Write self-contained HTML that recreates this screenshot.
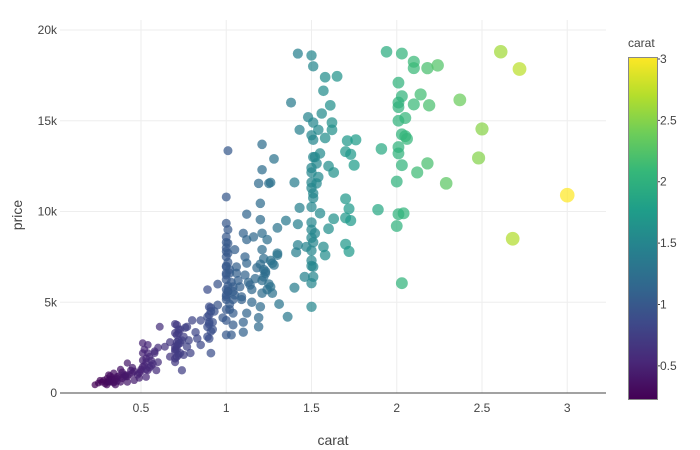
<!DOCTYPE html>
<html><head><meta charset="utf-8"><style>
body{margin:0;background:#fff;}
svg{display:block;font-family:"Liberation Sans",Arial,sans-serif;}
</style></head><body>
<svg id="chart" width="700" height="450"></svg>
<script>
const carats=[1.42,1.50,1.51,1.58,1.65,1.57,1.38,1.61,1.56,1.48,1.51,1.62,1.54,1.43,1.62,1.50,1.58,1.51,1.71,1.76,1.28,1.55,1.70,1.73,1.52,1.53,1.60,1.63,1.75,1.50,1.54,1.40,1.50,1.53,1.26,1.70,1.51,1.43,1.50,1.55,1.72,1.89,1.35,1.42,1.30,1.50,1.63,1.70,1.73,1.60,1.50,1.50,1.42,1.47,1.41,1.57,1.58,1.70,1.72,1.50,1.50,1.51,1.30,1.27,1.46,1.51,1.50,1.40,1.31,1.50,1.36,
1.94,2.03,2.10,2.10,2.18,2.24,2.01,2.14,2.03,2.01,2.01,2.10,2.19,2.37,2.01,2.05,2.03,2.05,2.06,2.50,1.91,2.01,2.01,2.03,2.18,2.12,2.48,2.00,2.29,3.00,2.01,2.04,2.00,2.68,2.03,2.61,2.72,
1.01,1.00,1.21,1.21,1.19,1.25,1.20,1.12,1.20,1.00,1.10,1.16,1.21,1.24,1.00,1.01,1.12,1.05,1.21,1.30,1.00,1.11,1.26,1.00,1.06,1.12,1.22,1.28,0.95,0.89,1.00,1.00,1.04,1.08,1.14,1.22,1.26,1.21,1.27,1.00,1.04,1.09,1.15,1.20,0.95,0.90,1.00,1.04,1.12,0.98,1.04,1.10,1.19,1.19,1.00,1.03,1.10,0.89,0.92,0.89,0.85,0.89,0.80,0.77,0.82,0.85,0.91,0.71,0.70,0.72,0.75,0.77,0.70,0.73,0.67,0.79,0.70,0.74,0.61,0.64,0.51,0.54,0.51,0.54,0.58,0.51,0.56,0.60,0.51,0.54,0.59,0.49,0.42,0.45,0.42,0.39,0.36,0.34,0.31,0.32,0.28,0.25,0.23,0.38,0.42,0.46,0.30,0.35,0.49,0.53,0.44,0.26,0.73,0.67,0.78,0.83,0.60,0.45,
1.00,1.00,1.01,1.02,1.00,1.01,1.00,1.02,1.01,1.00,0.90,0.91,0.90,0.71,0.72,0.70,0.71,0.52,0.53,0.50,0.55,0.31,0.32,0.33,0.34,0.30,0.40,0.41,0.36,0.70,0.71,0.75,1.20,1.21,1.23,1.22,1.24,1.51,1.50,1.52,1.51,1.50,1.50,1.51,
1.00,1.01,1.00,1.02,1.01,1.00,1.03,1.01,1.00,1.02,1.05,1.07,1.04,1.06,1.09,1.11,1.13,1.15,1.17,1.18,1.23,1.25,0.90,0.91,0.92,0.93,0.90,0.91,0.71,0.72,0.73,0.70,0.71,0.72,0.74,0.76,0.70,0.72,0.55,0.57,0.52,0.53,0.56,0.58,0.50,0.53,0.31,0.33,0.35,0.37,0.39,0.40,0.32,0.34,0.36,0.38,0.41,0.43,0.30,0.27,0.29,0.33,0.46,0.48];
const prices=[18700,18600,18000,17400,17450,16650,16000,15850,15400,15200,14900,14900,14500,14500,14500,14200,14050,13950,13900,13950,12900,13200,13300,13150,13000,12650,12500,12150,12550,12150,11900,11600,11600,11550,11600,10700,10750,10200,10250,9900,10150,10100,9500,9300,9100,9400,9600,9650,9500,9050,9000,8550,8150,8050,7750,8050,7600,8200,7800,7850,7300,6950,7600,7150,6400,6400,6050,5800,4900,4750,4200,
18800,18700,18250,17900,17900,18050,17100,16450,16350,16000,15750,15900,15850,16150,15000,15150,14250,14150,14000,14550,13450,13550,13200,12550,12650,12150,12950,11650,11550,10900,9850,9900,9200,8500,6050,18800,17850,
13350,10800,13700,12300,11550,11550,10450,9850,9550,9350,8800,8600,8800,8450,8600,8250,8450,7900,7900,7700,7500,7500,7300,6950,6950,7150,6800,7050,6000,5700,6250,5700,5850,5850,5950,6400,5850,5500,5500,5150,5150,5150,5000,4750,4850,4750,4600,4400,4400,4150,3750,3900,4150,3650,3200,3200,3350,4200,3900,3650,4000,3100,4000,3650,3350,2650,2200,3750,3300,2900,3100,2550,2550,2200,2000,2200,1700,1250,3650,2550,2750,2650,2200,2200,2200,1800,1800,1700,1450,1250,1250,1100,1650,1100,900,1150,900,1100,1000,600,700,550,450,600,600,700,450,450,830,880,1250,700,2750,2800,2900,3000,2500,1400,
5400,6600,7700,6600,8300,9000,4000,4600,5600,7000,3800,4500,3000,2800,3500,2300,2000,1500,1700,1300,1400,600,750,700,550,800,900,1000,650,2400,3200,2100,7100,6200,6700,7400,5700,11000,11300,8800,8300,7000,12400,13000,
5300,5900,6500,6800,7200,7800,6100,5600,8000,4900,5400,6200,5600,6600,5300,6500,6100,5700,6300,6900,6600,6000,4300,4700,3500,4500,3900,3400,2400,2700,3500,3800,2600,3300,2900,3600,1900,2100,2000,1600,2400,1900,1500,2300,1200,1300,700,850,750,950,800,1000,950,600,800,1300,900,1000,600,600,500,750,1200,1000];
const W=700,H=450,X0=55.75,XS=170.5,Y0=393,YS=90.75/5000;
const xTicks=[0.5,1,1.5,2,2.5,3],yTicks=[0,5000,10000,15000,20000],yLabels=["0","5k","10k","15k","20k"];
const cTicks=[0.5,1,1.5,2,2.5,3];
const cmin=0.23,cmax=3.0;
const vir=[[68,1,84],[72,40,120],[62,73,137],[49,104,142],[38,130,142],[31,158,137],[53,183,121],[109,205,89],[180,222,44],[253,231,37]];
function xp(v){return X0+v*XS;} function yp(v){return Y0-v*YS;}
function col(c){let t=Math.max(0,Math.min(1,(c-cmin)/(cmax-cmin)))*(vir.length-1);let i=Math.min(vir.length-2,Math.floor(t)),f=t-i;const a=vir[i],b=vir[i+1];return `rgb(${a.map((v,k)=>Math.round(v+(b[k]-v)*f)).join(',')})`;}
const NS="http://www.w3.org/2000/svg",svg=document.getElementById('chart');
function mk(tag,at,parent){const e=document.createElementNS(NS,tag);for(const k in at)e.setAttribute(k,at[k]);(parent||svg).appendChild(e);return e;}
const grid=mk('g',{});
xTicks.forEach(v=>{mk('line',{x1:xp(v),x2:xp(v),y1:20,y2:393,stroke:'#eee'},grid);
const t=mk('text',{x:xp(v),y:412,'text-anchor':'middle','font-size':12,fill:'#444'});t.textContent=v;});
yTicks.forEach((v,i)=>{if(v>0)mk('line',{x1:60,x2:606,y1:yp(v),y2:yp(v),stroke:'#eee'},grid);
const t=mk('text',{x:57,y:yp(v)+4,'text-anchor':'end','font-size':12,fill:'#444'});t.textContent=yLabels[i];});
const zl=mk('line',{x1:60,x2:606,y1:393,y2:393,stroke:'#444','stroke-width':1});
const pts=mk('g',{});
carats.map((c,i)=>i).sort((a,b)=>carats[a]-carats[b]).forEach(i=>{const c=carats[i];
const p=mk('circle',{cx:xp(c),cy:yp(prices[i]),r:3.1+1.4*c,fill:col(c),'fill-opacity':0.72},pts);

});
const xt=mk('text',{x:333,y:445,'text-anchor':'middle','font-size':14,fill:'#444'});xt.textContent='carat';
const yt=mk('text',{x:22,y:215,'text-anchor':'middle','font-size':14,fill:'#444',transform:'rotate(-90 22 215)'});yt.textContent='price';
const defs=mk('defs',{});const lg=mk('linearGradient',{id:'vg',x1:0,y1:1,x2:0,y2:0},defs);
vir.forEach((v,i)=>mk('stop',{offset:i/(vir.length-1),'stop-color':`rgb(${v.join(',')})`},lg));
const cbT=59,cbB=399,cpy=c=>cbB-(c-cmin)/(cmax-cmin)*(cbB-cbT);
const cb=mk('rect',{x:628.5,y:57.5,width:29,height:342,fill:'url(#vg)',stroke:'#888','stroke-width':1});
cTicks.forEach(v=>{mk('line',{x1:658,x2:660,y1:cpy(v),y2:cpy(v),stroke:'#444'});const t=mk('text',{x:660,y:cpy(v)+4,'font-size':12,fill:'#444'});t.textContent=v;});
const ct=mk('text',{x:628,y:47,'font-size':12,fill:'#444'});ct.textContent='carat';
</script>
</body></html>
